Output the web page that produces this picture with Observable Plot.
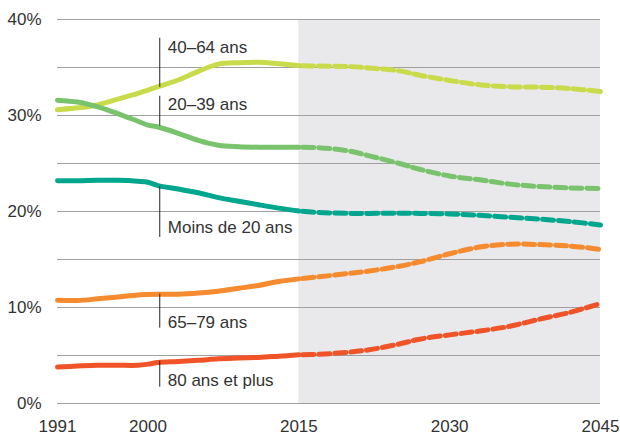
<!DOCTYPE html>
<html>
<head>
<meta charset="utf-8">
<script src="https://cdn.jsdelivr.net/npm/d3@7"></script>
<script src="https://cdn.jsdelivr.net/npm/@observablehq/plot@0.6"></script>
<style>
  html, body { margin: 0; padding: 0; background: #fff; }
</style>
</head>
<body>
<div id="chart"></div>
<script>
// ---- Data ----
const years = [1991,1993,1995,1997,1999,2000,2001,2003,2005,2007,2009,2011,2013,2015,2017,2020,2022,2025,2027,2030,2033,2036,2039,2042,2045];
const lastObserved = 2015;
const groups = ["40–64 ans", "20–39 ans", "Moins de 20 ans", "65–79 ans", "80 ans et plus"];
const colors = ["#c9da4a", "#78c36c", "#00a68e", "#f68a2e", "#f05327"];

const age40_64 = [30.6,30.8,31.1,31.7,32.3,32.65,33.0,33.7,34.6,35.35,35.5,35.55,35.4,35.2,35.15,35.1,34.95,34.65,34.2,33.65,33.2,33.0,32.95,32.8,32.5];
const age20_39 = [31.6,31.4,30.9,30.2,29.4,29.0,28.8,28.15,27.4,26.9,26.75,26.7,26.7,26.7,26.65,26.3,25.8,25.0,24.4,23.7,23.3,22.85,22.6,22.45,22.4];
const ageUnder20 = [23.2,23.2,23.25,23.25,23.15,23.05,22.7,22.35,21.95,21.45,21.07,20.7,20.35,20.05,19.9,19.8,19.8,19.82,19.8,19.75,19.6,19.4,19.2,18.95,18.6];
const age65_79 = [10.75,10.73,10.9,11.1,11.3,11.35,11.38,11.38,11.5,11.7,12.0,12.3,12.7,12.98,13.2,13.55,13.8,14.3,14.75,15.6,16.3,16.6,16.55,16.4,16.05];
const age80plus = [3.8,3.9,3.98,3.98,3.98,4.1,4.27,4.37,4.5,4.65,4.75,4.8,4.93,5.07,5.13,5.35,5.6,6.2,6.7,7.15,7.55,8.05,8.8,9.5,10.42];

const xTicks = [1991, 2000, 2015, 2030, 2045];
const yTicks = [0, 10, 20, 30, 40];
const gridValues = [0, 5, 10, 15, 20, 25, 30, 35, 40];

// label annotations: year of marker, rule extent (%), text level (%)
const labelYear = 2001.17;
const labelRuleTop = [38.05, 32.0, 22.6, 11.4, 4.4];
const labelRuleBottom = [32.94, 28.9, 17.3, 7.85, 1.7];
const labelTextY = [37.06, 31.16, 18.36, 8.42, 2.43];

// ---- Build table ----
const seriesValues = [age40_64, age20_39, ageUnder20, age65_79, age80plus];
const rows = [];
groups.forEach((g, gi) => {
  years.forEach((yr, i) => rows.push({group: g, year: yr, value: seriesValues[gi][i]}));
});
const observed = rows.filter(d => d.year <= lastObserved);
const projected = rows.filter(d => d.year >= lastObserved);
const labels = groups.map((g, i) => ({group: g, year: labelYear, top: labelRuleTop[i], bottom: labelRuleBottom[i], ty: labelTextY[i]}));

const chart = Plot.plot({
  width: 620,
  height: 435,
  marginLeft: 57,
  marginRight: 20,
  marginTop: 19,
  marginBottom: 32,
  style: {fontFamily: "'Liberation Sans', Arial, sans-serif", fontSize: "17px", color: "#333", background: "#fff"},
  x: {domain: [1991, 2045]},
  y: {domain: [0, 40]},
  color: {domain: groups, range: colors},
  marks: [
    Plot.rect([{x1: lastObserved, x2: 2045, y1: 0, y2: 40}], {x1: "x1", x2: "x2", y1: "y1", y2: "y2", fill: "#e9e9ec"}),
    Plot.ruleY(gridValues, {stroke: "#a0a0a0", strokeWidth: 1}),
    Plot.axisX({ticks: xTicks, tickFormat: "d", tickSize: 0, tickPadding: 16, fontSize: 17, color: "#333", label: null}),
    Plot.axisY({ticks: yTicks, tickFormat: d => d + "%", tickSize: 0, tickPadding: 16, fontSize: 17, color: "#333", label: null}),
    Plot.line(observed, {x: "year", y: "value", z: "group", stroke: "group", strokeWidth: 5, curve: "catmull-rom"}),
    Plot.line(projected, {x: "year", y: "value", z: "group", stroke: "group", strokeWidth: 5, strokeDasharray: "11,5", strokeDashoffset: -4, curve: "catmull-rom"}),
    Plot.ruleX(labels, {x: "year", y1: "bottom", y2: "top", stroke: "#222", strokeWidth: 1}),
    Plot.text(labels, {x: "year", y: "ty", text: "group", textAnchor: "start", dx: 8, fill: "#333", fontSize: 17})
  ]
});
document.getElementById("chart").appendChild(chart);
</script>
</body>
</html>
